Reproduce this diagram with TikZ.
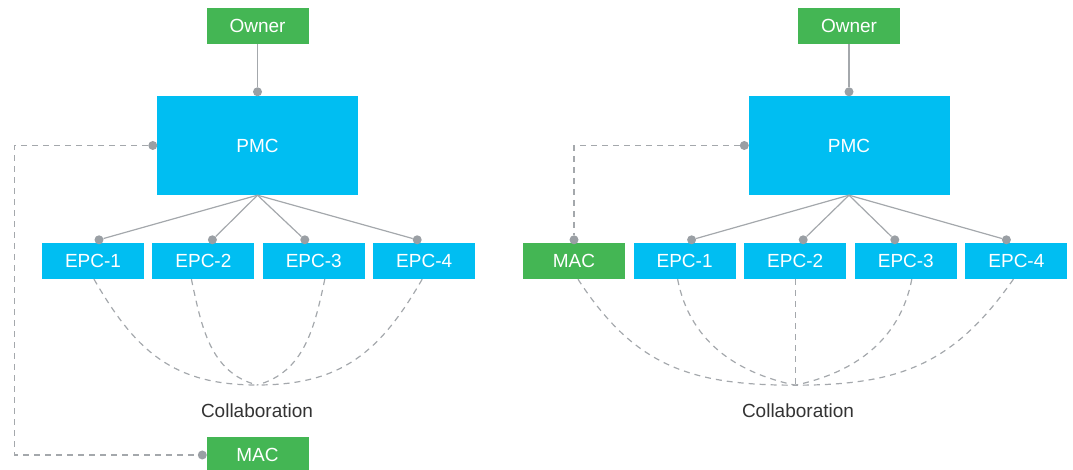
\documentclass[tikz,border=0pt]{standalone}
\usepackage{fontspec}
\setmainfont{Liberation Sans}
\usetikzlibrary{positioning,calc}
\definecolor{pmcblue}{HTML}{00BEF2}
\definecolor{ownergreen}{HTML}{44B654}
\definecolor{linkgray}{HTML}{A4A8AC}
\definecolor{dotgray}{HTML}{9A9FA4}
\definecolor{textgray}{HTML}{333333}
\begin{document}
\begin{tikzpicture}[
    x=1pt, y=1pt,
    node distance=8pt,
    unit/.style={rectangle, fill=pmcblue, text=white, minimum width=102pt, minimum height=36pt, inner sep=0pt, font=\fontsize{19}{22}\selectfont},
    party/.style={unit, fill=ownergreen},
    pmcbox/.style={unit, minimum width=201pt, minimum height=99pt},
    note/.style={text=textgray, font=\fontsize{19}{22}\selectfont},
    dot/.style={circle, fill=dotgray, inner sep=0pt, minimum size=9pt},
    link/.style={draw=linkgray, line width=1.2pt},
    collab/.style={draw=linkgray, line width=1.2pt, dash pattern=on 6pt off 5pt}
]
    \useasboundingbox (0,0) rectangle (1073,470);

    % left: MAC outside the EPC group
    \node[pmcbox] (pmc1) at (257.5,324.5) {PMC};
    \node[party, above=52pt of pmc1] (own1) {Owner};
    \node[unit] (e1) at (93,209) {EPC-1};
    \node[unit, right=of e1] (e2) {EPC-2};
    \node[unit, right=of e2] (e3) {EPC-3};
    \node[unit, right=of e3] (e4) {EPC-4};
    \node[note] (lab1) at (257,59) {Collaboration};
    \node[party] (mac1) at (257.5,15) {MAC};

    \node[dot] (t1) at ($(pmc1.north)+(0,4)$) {};
    \node[dot] (s1) at ($(pmc1.west)+(-4,0)$) {};
    \node[dot] (m1) at ($(mac1.west)+(-4,0)$) {};
    \foreach \i/\dx in {1/6, 2/9, 3/-9, 4/-7}
        \node[dot] (d1-\i) at ($(e\i.north)+(\dx,3)$) {};

    \draw[link] (own1) -- (t1);
    \foreach \i in {1,...,4}
        \draw[link] (pmc1.south) -- (d1-\i);
    \draw[collab] (s1) -- ++(-138,0) |- (m1);

    \coordinate (j1) at (257,85);
    \draw[collab] ($(e1.south)+(1,0)$) to[out=-60, in=180, looseness=1.1] (j1);
    \draw[collab] ($(e2.south)+(-12,0)$) to[out=-78, in=165] (j1);
    \draw[collab] ($(e3.south)+(11,0)$) to[out=-102, in=15] (j1);
    \draw[collab] ($(e4.south)+(-2,0)$) to[out=-120, in=0, looseness=1.1] (j1);

    % right: MAC inside the EPC group
    \node[pmcbox] (pmc2) at (849,324.5) {PMC};
    \node[party, above=52pt of pmc2] (own2) {Owner};
    \node[party] (mac2) at (574,209) {MAC};
    \node[unit, right=8.2pt of mac2] (f1) {EPC-1};
    \node[unit, right=8.2pt of f1] (f2) {EPC-2};
    \node[unit, right=8.2pt of f2] (f3) {EPC-3};
    \node[unit, right=8.2pt of f3] (f4) {EPC-4};
    \node[note] (lab2) at (798,59) {Collaboration};

    \node[dot] (t2) at ($(pmc2.north)+(0,4)$) {};
    \node[dot] (s2) at ($(pmc2.west)+(-4,0)$) {};
    \node[dot] (m2) at ($(mac2.north)+(0,3)$) {};
    \foreach \i/\dx in {1/7, 2/8, 3/-11, 4/-10}
        \node[dot] (d2-\i) at ($(f\i.north)+(\dx,3)$) {};

    \draw[link] (own2) -- (t2);
    \foreach \i in {1,...,4}
        \draw[link] (pmc2.south) -- (d2-\i);
    \draw[collab] (s2) -| (m2);

    \coordinate (j2) at ($(f2.south)+(0,-106)$);
    \draw[collab] ($(mac2.south)+(4,0)$) to[out=-57, in=180, looseness=1.1] (j2);
    \draw[collab] ($(f1.south)+(-7,0)$) to[out=-79, in=168] (j2);
    \draw[collab] (f2.south) -- (j2);
    \draw[collab] ($(f3.south)+(6,0)$) to[out=-101, in=12] (j2);
    \draw[collab] ($(f4.south)+(-3,0)$) to[out=-125, in=0, looseness=1.1] (j2);
\end{tikzpicture}
\end{document}
